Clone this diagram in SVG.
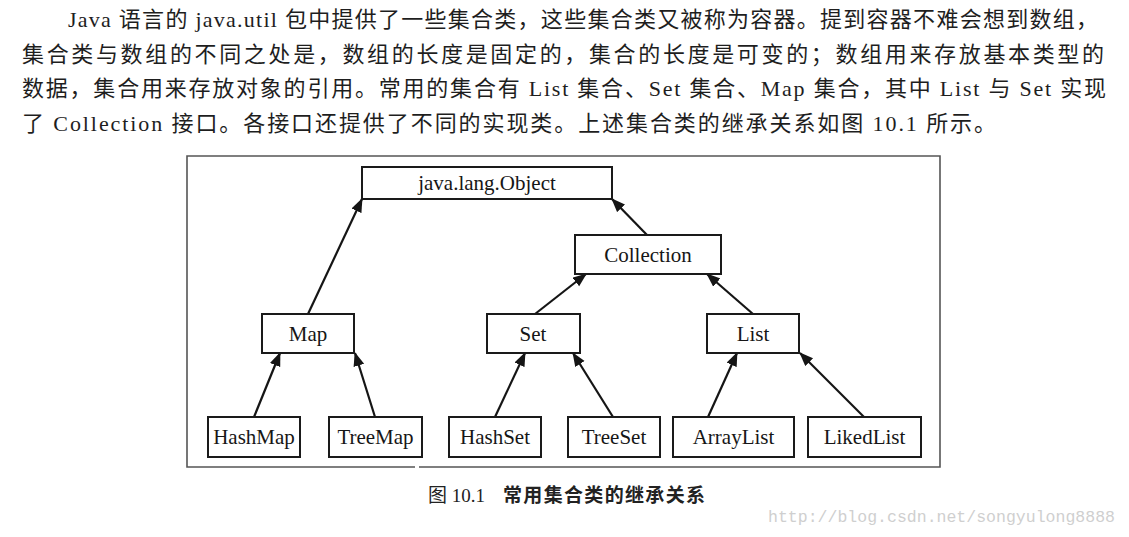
<svg xmlns="http://www.w3.org/2000/svg" width="1129" height="537" viewBox="0 0 1129 537">
<defs>
<marker id="arr" markerUnits="userSpaceOnUse" markerWidth="14" markerHeight="12" refX="13" refY="5.5" orient="auto">
<path d="M0,0 L14,5.5 L0,11 z" fill="#151515"/>
</marker>
<style>
.para{font-family:"Liberation Serif","Noto Sans CJK SC",serif;font-size:22px;fill:#1e1e1e}
.box{fill:#fff;stroke:#1a1a1a;stroke-width:2}
.lbl{font-family:"Liberation Serif",serif;font-size:21px;fill:#161616;text-anchor:middle}
.edge{stroke:#151515;stroke-width:2.2;fill:none;marker-end:url(#arr)}
.cap{font-family:"Liberation Serif","Noto Sans CJK SC",sans-serif;font-size:19px;fill:#222}
.wm{font-family:"Liberation Mono",monospace;font-size:16.5px;fill:#cfcfcf}
</style>
</defs>
<rect width="1129" height="537" fill="#fff"/>
<g id="paragraph">
<text class="para" x="68" y="27" textLength="1030" lengthAdjust="spacing">Java 语言的 java.util 包中提供了一些集合类，这些集合类又被称为容器。提到容器不难会想到数组，</text>
<text class="para" x="22" y="62" textLength="1082" lengthAdjust="spacing">集合类与数组的不同之处是，数组的长度是固定的，集合的长度是可变的；数组用来存放基本类型的</text>
<text class="para" x="22" y="96" textLength="1084" lengthAdjust="spacing">数据，集合用来存放对象的引用。常用的集合有 List 集合、Set 集合、Map 集合，其中 List 与 Set 实现</text>
<text class="para" x="22" y="131" textLength="974" lengthAdjust="spacing">了 Collection 接口。各接口还提供了不同的实现类。上述集合类的继承关系如图 10.1 所示。</text>
</g>
<g id="frame">
<path d="M415,467 L187,467 L187,156 L940,156 L940,467 L419,467" fill="none" stroke="#555" stroke-width="1.6"/>
</g>
<g id="connectors">
<line class="edge" x1="647" y1="235" x2="612" y2="199"/>
<line class="edge" x1="308" y1="314" x2="362" y2="199"/>
<line class="edge" x1="535" y1="314" x2="586" y2="274"/>
<line class="edge" x1="753" y1="314" x2="707" y2="274"/>
<line class="edge" x1="254" y1="417" x2="280" y2="353"/>
<line class="edge" x1="375" y1="417" x2="355" y2="353"/>
<line class="edge" x1="495" y1="417" x2="525" y2="353"/>
<line class="edge" x1="613" y1="417" x2="573" y2="353"/>
<line class="edge" x1="708" y1="417" x2="737" y2="353"/>
<line class="edge" x1="864" y1="417" x2="800" y2="353"/>
</g>
<g id="node-object"><rect class="box" x="362" y="167" width="250" height="32"/><text class="lbl" x="487" y="190">java.lang.Object</text></g>
<g id="node-collection"><rect class="box" x="575" y="235" width="146" height="39"/><text class="lbl" x="648" y="262">Collection</text></g>
<g id="node-map"><rect class="box" x="262" y="314" width="92" height="39"/><text class="lbl" x="308" y="341">Map</text></g>
<g id="node-set"><rect class="box" x="487" y="314" width="93" height="39"/><text class="lbl" x="533" y="341">Set</text></g>
<g id="node-list"><rect class="box" x="707" y="314" width="92" height="39"/><text class="lbl" x="753" y="341">List</text></g>
<g id="node-hashmap"><rect class="box" x="208" y="417" width="92" height="40"/><text class="lbl" x="254" y="444">HashMap</text></g>
<g id="node-treemap"><rect class="box" x="329" y="417" width="93" height="40"/><text class="lbl" x="375.5" y="444">TreeMap</text></g>
<g id="node-hashset"><rect class="box" x="449" y="417" width="92" height="40"/><text class="lbl" x="495" y="444">HashSet</text></g>
<g id="node-treeset"><rect class="box" x="568" y="417" width="92" height="40"/><text class="lbl" x="614" y="444">TreeSet</text></g>
<g id="node-arraylist"><rect class="box" x="673" y="417" width="121" height="40"/><text class="lbl" x="733.5" y="444">ArrayList</text></g>
<g id="node-likedlist"><rect class="box" x="808" y="417" width="113" height="40"/><text class="lbl" x="864.5" y="444">LikedList</text></g>
<g id="caption">
<text class="cap" x="428" y="502">图 10.1<tspan x="503" font-weight="bold" textLength="202" lengthAdjust="spacing">常用集合类的继承关系</tspan></text>
</g>
<g id="watermark">
<text class="wm" x="768" y="522" textLength="347" lengthAdjust="spacingAndGlyphs">http://blog.csdn.net/songyulong8888</text>
</g>
</svg>
